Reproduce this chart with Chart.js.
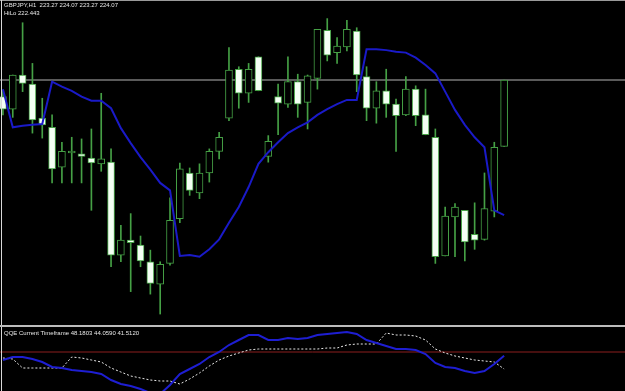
<!DOCTYPE html>
<html>
<head>
<meta charset="utf-8">
<script src="https://cdn.jsdelivr.net/npm/chart.js@4"></script>
<style>
  html, body { margin: 0; padding: 0; background: #000; }
  #wrap { position: relative; width: 625px; height: 391px; background: #000; overflow: hidden; }
  #main { position: absolute; left: 0; top: 0; }
  #qqe { position: absolute; left: 0; top: 327px; }
  .lbl { position: absolute; left: 4px; color: #e6e6e6; font: 6px 'Liberation Sans', sans-serif; white-space: pre; }
  .topline { position: absolute; left: 0; top: 0; width: 625px; height: 1px; background: #9a9a9a; }
  .leftline { position: absolute; left: 1px; top: 0; width: 1px; height: 391px; background: #d8d8d8; }
  .sep { position: absolute; left: 0; top: 325px; width: 625px; height: 2px; background: #bcbcbc; }
</style>
</head>
<body>
<div id="wrap">
  <canvas id="main" width="625" height="325"></canvas>
  <canvas id="qqe" width="625" height="64"></canvas>
  <div class="topline"></div>
  <div class="leftline"></div>
  <div class="sep"></div>
  <div class="lbl" id="head" style="top:2px"></div>
  <div class="lbl" id="hilo" style="top:10px"></div>
  <div class="lbl" id="qqeLbl" style="top:330px"></div>
</div>
<script>
// GBPJPY H1 candles, oldest first
const opens  = [223.87, 223.72, 224.13, 224.02, 223.61, 223.50, 223.02, 223.19, 223.18, 223.13,
                223.06, 223.08, 221.96, 222.14, 222.08, 221.88, 221.61, 221.86, 222.40, 222.95,
                222.71, 222.95, 223.21, 223.61, 224.20, 223.91, 224.35, 223.15, 223.87, 223.78,
                224.05, 223.80, 224.09, 224.67, 224.40, 224.47, 224.66, 224.11, 223.73, 223.94,
                223.78, 223.65, 223.96, 223.65, 223.38, 221.95, 222.42, 222.50, 222.21, 222.15,
                222.49, 223.27]
const highs  = [223.95, 224.13, 224.76, 224.27, 223.85, 223.65, 223.32, 223.38, 223.36, 223.48,
                223.91, 223.24, 222.32, 222.46, 222.19, 222.02, 221.88, 222.65, 223.07, 223.01,
                223.06, 223.24, 223.44, 224.46, 224.23, 224.27, 224.35, 223.40, 224.02, 224.35,
                224.14, 224.13, 224.68, 224.81, 224.58, 224.79, 224.70, 224.23, 224.05, 224.20,
                223.84, 224.11, 224.00, 223.96, 223.48, 222.54, 222.58, 222.50, 222.59, 222.95,
                223.32, 224.07]
const lows   = [223.65, 223.62, 223.93, 223.43, 223.37, 222.83, 222.83, 222.83, 222.83, 222.50,
                222.97, 221.82, 221.88, 221.52, 221.82, 221.49, 221.25, 221.84, 222.35, 222.68,
                222.64, 222.84, 223.12, 223.58, 223.73, 223.80, 223.94, 223.08, 223.41, 223.74,
                223.62, 223.48, 223.96, 224.30, 224.27, 224.42, 223.93, 223.58, 223.55, 223.62,
                223.21, 223.64, 223.52, 223.41, 221.86, 221.95, 221.94, 221.89, 222.03, 222.14,
                222.42, 223.27]
const closes = [223.72, 224.13, 224.03, 223.59, 223.53, 223.00, 223.21, 223.20, 223.15, 223.07,
                223.12, 221.96, 222.14, 222.11, 221.89, 221.62, 221.85, 222.38, 223.00, 222.74,
                222.95, 223.21, 223.38, 224.19, 223.91, 224.20, 223.94, 223.33, 223.79, 224.05,
                223.78, 224.12, 224.68, 224.37, 224.48, 224.68, 224.13, 223.73, 223.94, 223.78,
                223.64, 223.96, 223.64, 223.41, 221.94, 222.43, 222.54, 222.12, 222.14, 222.52,
                223.26, 224.07]
const hiLo   = [223.96, 223.50, 223.52, 223.53, 223.54, 224.05, 223.99, 223.94, 223.87, 223.82,
                223.82, 223.73, 223.49, 223.31, 223.14, 222.99, 222.83, 222.74, 221.95, 221.96,
                221.94, 222.03, 222.15, 222.35, 222.54, 222.78, 223.06, 223.20, 223.32, 223.43,
                223.50, 223.56, 223.65, 223.72, 223.78, 223.83, 223.83, 224.44, 224.44, 224.43,
                224.41, 224.40, 224.34, 224.25, 224.15, 223.93, 223.71, 223.53, 223.38, 223.26,
                222.50, 222.443]

// QQE sub window
const qqeMain  = [46, 47.5, 47.5, 46.5, 45, 42.5, 42, 41, 40.5, 40,
                  39, 36, 34, 33, 31.5, 29.5, 29, 33.5, 39, 41.5,
                  44, 47.5, 50, 53.5, 56, 58.5, 58.5, 56, 56, 57,
                  56.5, 57, 58.5, 59, 59.5, 60, 59, 56, 54.5, 53,
                  51.5, 51.5, 51, 49, 44.5, 42.5, 42, 40.5, 39.5, 40.5,
                  44, 48.1803]
const qqeTrail = [47, 46.5, 42, 42, 42, 42, 42, 47.5, 47, 46,
                  45, 42, 40, 38, 37, 36, 35.5, 35.5, 34, 36.5,
                  39.5, 43, 46, 48, 49.5, 51, 51.5, 51.5, 51.5, 51.5,
                  51.5, 51.5, 51.5, 52, 52, 53.5, 54, 54, 54, 59.5,
                  58.5, 58.5, 58, 56, 51.5, 49.5, 48, 47, 46, 45.5,
                  45, 41.512]
const qqeHidden = 44.0590
const qqeLevel = 50
const bidPrice = 224.07

const GREEN = '#45a045'
const last = closes.length - 1
const idx = closes.map((c, i) => i)

document.getElementById('head').textContent =
  'GBPJPY,H1  ' + [opens[last], highs[last], lows[last], closes[last]].map(v => v.toFixed(2)).join(' ')
document.getElementById('hilo').textContent = 'HiLo ' + hiLo[last].toFixed(3)
document.getElementById('qqeLbl').textContent =
  'QQE Current Timeframe ' + [qqeMain[last], qqeHidden, qqeTrail[last]].map(v => v.toFixed(4)).join(' ')

const xScale = { type: 'linear', min: -0.3, max: 63.3, offset: false, display: false }
const common = {
  responsive: false,
  animation: false,
  events: [],
  layout: { padding: 0 },
  plugins: { legend: { display: false }, tooltip: { enabled: false } }
}

new Chart(document.getElementById('main'), {
  type: 'bar',
  data: {
    datasets: [
      {
        type: 'line',
        data: [{ x: -1, y: bidPrice }, { x: 70, y: bidPrice }],
        borderColor: '#b4b4b4', borderWidth: 1, pointRadius: 0, order: 4
      },
      {
        data: idx.map(i => ({ x: i, y: [lows[i], highs[i]] })),
        backgroundColor: GREEN, borderWidth: 0, barThickness: 1, grouped: false, order: 3
      },
      {
        data: idx.map(i => ({ x: i, y: [opens[i], closes[i]] })),
        backgroundColor: idx.map(i => closes[i] >= opens[i] ? '#000000' : '#f4fff4'),
        borderColor: GREEN, borderWidth: 1, borderSkipped: false,
        barThickness: 7, minBarLength: 2, grouped: false, order: 2
      },
      {
        type: 'line',
        data: idx.map(i => ({ x: i, y: hiLo[i] })),
        borderColor: '#1a1ac8', borderWidth: 2, pointRadius: 0, tension: 0, order: 1
      }
    ]
  },
  options: Object.assign({}, common, {
    scales: { x: xScale, y: { min: 221.118, max: 225.034, display: false } }
  })
})

new Chart(document.getElementById('qqe'), {
  type: 'line',
  data: {
    datasets: [
      {
        data: [{ x: -1, y: qqeLevel }, { x: 70, y: qqeLevel }],
        borderColor: '#8c1e1e', borderWidth: 1, pointRadius: 0, order: 3
      },
      {
        data: idx.map(i => ({ x: i, y: qqeTrail[i] })),
        borderColor: '#e8e8e8', borderWidth: 1, borderDash: [2, 2], pointRadius: 0, order: 2
      },
      {
        data: idx.map(i => ({ x: i, y: qqeMain[i] })),
        borderColor: '#1e1ed2', borderWidth: 2, pointRadius: 0, order: 1
      }
    ]
  },
  options: Object.assign({}, common, {
    scales: { x: xScale, y: { min: 30.5, max: 62.5, display: false } }
  })
})
</script>
</body>
</html>
